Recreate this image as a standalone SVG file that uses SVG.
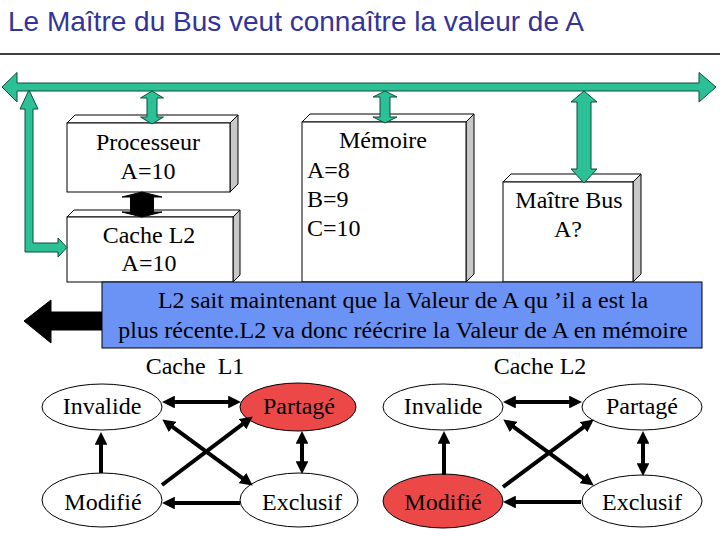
<svg xmlns="http://www.w3.org/2000/svg" width="720" height="540" viewBox="0 0 720 540">
<style>
.title{font-family:"Liberation Sans",Arial,sans-serif;font-size:28px;fill:#333399}
.t{font-family:"Liberation Serif","Times New Roman",serif;font-size:24px;fill:#000}
.c{text-anchor:middle}
.front{fill:#fff;stroke:#000;stroke-width:1}
.top{fill:#fff;stroke:#000;stroke-width:1}
.side{fill:#c8c8c8;stroke:#000;stroke-width:1}
.green{fill:#2cc096;stroke:#0b4f3c;stroke-width:1}
.blk{fill:#000;stroke:#000;stroke-width:1}
.ell{fill:#fff;stroke:#000;stroke-width:1}
.red{fill:#ec4848;stroke:#000;stroke-width:1}
.st{stroke:#000;stroke-width:4;fill:none}
</style>
<defs>
<marker id="ah" viewBox="0 0 10 10" markerWidth="3.2" markerHeight="3.2" refX="3" refY="5" orient="auto-start-reverse" markerUnits="strokeWidth">
<path d="M0,0 L10,5 L0,10 Z" fill="#000"/>
</marker>
</defs>
<rect x="0" y="0" width="720" height="540" fill="#fff"/>
<text class="title" x="8" y="31">Le Maître du Bus veut connaître la valeur de A</text>
<line x1="0" y1="54" x2="720" y2="54" stroke="#000" stroke-width="1.5"/>

<g id="processeur">
<polygon class="top" points="67,123 75,115 238,115 230,123"/>
<polygon class="side" points="230,123 238,115 238,184 230,192"/>
<rect class="front" x="67" y="123" width="163" height="69"/>
<text class="t c" x="148" y="150">Processeur</text>
<text class="t c" x="148" y="179">A=10</text>
</g>
<g id="cacheL2box">
<polygon class="top" points="67,217 74,210 240,210 233,217"/>
<polygon class="side" points="233,217 240,210 240,275 233,282"/>
<rect class="front" x="67" y="217" width="166" height="65"/>
<text class="t c" x="149" y="243">Cache L2</text>
<text class="t c" x="149" y="271">A=10</text>
</g>
<g id="memoire">
<polygon class="top" points="302,122 310,114 474,114 466,122"/>
<polygon class="side" points="466,122 474,114 474,274 466,282"/>
<rect class="front" x="302" y="122" width="164" height="160"/>
<text class="t c" x="383" y="148">Mémoire</text>
<text class="t" x="307" y="178">A=8</text>
<text class="t" x="307" y="207">B=9</text>
<text class="t" x="307" y="236">C=10</text>
</g>
<g id="maitre">
<polygon class="top" points="503,182 511,174 641,174 633,182"/>
<polygon class="side" points="633,182 641,174 641,274 633,282"/>
<rect class="front" x="503" y="182" width="130" height="100"/>
<text class="t c" x="569" y="208">Maître Bus</text>
<text class="t c" x="568" y="237">A?</text>
</g>

<g id="connectors">
<polygon class="green" points="2,87 17,72.5 17,83 699,83 699,72.5 716,87 699,102 699,91 17,91 17,102"/>
<polygon class="green" points="29,90 38,109 33,109 33,243 58,243 58,238 67,247.5 58,257 58,252 25,252 25,109 20,109"/>
<polygon class="green" points="152,91 163.5,98 157,98 157,117 163.5,117 152,124 140.5,117 147,117 147,98 140.5,98"/>
<polygon class="green" points="385,91 397,97 390,97 390,117 397,117 385,123 373,117 380,117 380,97 373,97"/>
<polygon class="green" points="584,91 597,102 591,102 591,169 597,169 584,183 571,169 577,169 577,102 571,102"/>
<polygon class="blk" points="142,192 162,197 153.5,197 153.5,212 162,212 142,217 122,212 130.5,212 130.5,197 122,197"/>
<polygon class="blk" points="24,321 51,300 51,312 104,312 104,330 51,330 51,343"/>
</g>

<g id="message">
<rect x="102" y="282" width="600" height="66" fill="#6b93f5" stroke="#000" stroke-width="1"/>
<text class="t c" x="403" y="308">L2 sait maintenant que la Valeur de A qu ’il a est la</text>
<text class="t c" x="403" y="338">plus récente.L2 va donc réécrire la Valeur de A en mémoire</text>
</g>

<text class="t c" x="195" y="374" style="white-space:pre">Cache  L1</text>
<text class="t c" x="540" y="374">Cache L2</text>

<g id="l1-invalide"><ellipse class="ell" cx="102" cy="407" rx="60" ry="23"/><text class="t c" x="102" y="414">Invalide</text></g>
<g id="l1-partage"><ellipse class="red" cx="298" cy="407" rx="58" ry="24"/><text class="t c" x="299" y="414">Partagé</text></g>
<g id="l1-modifie"><ellipse class="ell" cx="102" cy="500" rx="60" ry="27"/><text class="t c" x="103" y="510">Modifié</text></g>
<g id="l1-exclusif"><ellipse class="ell" cx="299" cy="500" rx="59" ry="27"/><text class="t c" x="302" y="510">Exclusif</text></g>

<g id="l2-invalide"><ellipse class="ell" cx="443" cy="407" rx="60" ry="23"/><text class="t c" x="443" y="414">Invalide</text></g>
<g id="l2-partage"><ellipse class="ell" cx="642" cy="407" rx="60" ry="23"/><text class="t c" x="642" y="414">Partagé</text></g>
<g id="l2-modifie"><ellipse class="red" cx="443" cy="501" rx="60" ry="27"/><text class="t c" x="443" y="510">Modifié</text></g>
<g id="l2-exclusif"><ellipse class="ell" cx="642" cy="501" rx="60" ry="26"/><text class="t c" x="642" y="510">Exclusif</text></g>

<g id="state-connectors">
<line class="st" x1="171" y1="402" x2="232" y2="402" marker-start="url(#ah)" marker-end="url(#ah)"/>
<line class="st" x1="101" y1="473" x2="101" y2="441" marker-end="url(#ah)"/>
<line class="st" x1="240" y1="503" x2="171" y2="503" marker-end="url(#ah)"/>
<line class="st" x1="302" y1="440" x2="302" y2="465" marker-start="url(#ah)" marker-end="url(#ah)"/>
<line class="st" x1="162" y1="485" x2="245.6" y2="421.8" marker-end="url(#ah)"/>
<line class="st" x1="169.5" y1="424.7" x2="245.5" y2="480.3" marker-start="url(#ah)" marker-end="url(#ah)"/>

<line class="st" x1="512" y1="402" x2="573" y2="402" marker-start="url(#ah)" marker-end="url(#ah)"/>
<line class="st" x1="444" y1="475" x2="444" y2="440" marker-end="url(#ah)"/>
<line class="st" x1="581" y1="502" x2="512" y2="502" marker-end="url(#ah)"/>
<line class="st" x1="643" y1="440" x2="643" y2="467" marker-start="url(#ah)" marker-end="url(#ah)"/>
<line class="st" x1="503" y1="487" x2="586.6" y2="424.8" marker-end="url(#ah)"/>
<line class="st" x1="510.5" y1="424.7" x2="586.5" y2="480.3" marker-start="url(#ah)" marker-end="url(#ah)"/>
</g>
</svg>
